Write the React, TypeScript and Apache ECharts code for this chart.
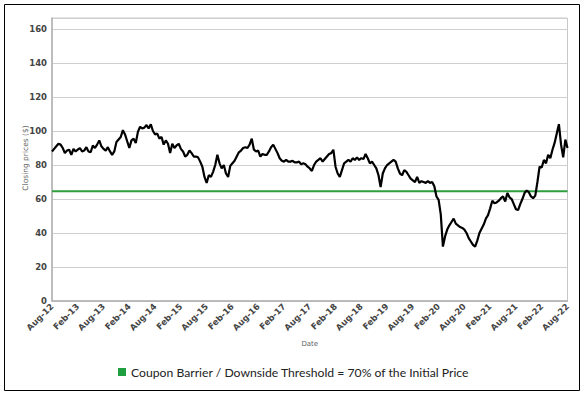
import React, { useEffect, useRef } from "react";
import * as echarts from "echarts";

const tickLabels = [
  "Aug-12", "Feb-13", "Aug-13", "Feb-14", "Aug-14", "Feb-15", "Aug-15",
  "Feb-16", "Aug-16", "Feb-17", "Aug-17", "Feb-18", "Aug-18", "Feb-19",
  "Aug-19", "Feb-20", "Aug-20", "Feb-21", "Aug-21", "Feb-22", "Aug-22",
];

// closing prices, two readings per month starting Aug-12
const prices = [
  88, 89.5, 91, 92.5, 92, 90, 87, 88.5, 89, 86, 89.5, 88, 89, 90, 88, 88.5, 90.5, 88, 87.5, 91.5, 90, 92, 94.5, 91,
  89.5, 88.5, 90.5, 88, 86, 88, 93.5, 95, 96.5, 100.5, 98, 94, 90, 94.5, 95.5, 93, 99.5, 102.5, 101.5, 102, 103.5, 101.5, 104, 100,
  98, 98.5, 95.5, 96.5, 92, 94.5, 92.5, 87, 92.5, 90, 91.5, 92.5, 89.5, 88, 85, 86, 88.5, 87, 85, 85, 84.5, 82, 79, 73,
  69.5, 74, 73, 76, 80, 86, 81, 78, 80, 75, 73, 79.5, 81, 82.5, 85, 87.5, 88.5, 90, 90.5, 90, 92, 95.5, 89, 88,
  88.5, 85, 86.5, 86, 86, 88, 90.5, 92, 89.5, 87, 84, 82.5, 82, 83, 82, 82, 82.5, 81.5, 81.5, 82, 80.5, 81, 80.5, 79,
  78, 76.5, 80, 82, 83, 84, 82, 83.5, 85, 86.5, 87, 89, 79, 75, 73, 77, 81, 82, 83, 82, 84, 83, 84.5, 83,
  84, 83.5, 86.5, 84, 81, 82, 80, 78, 74, 67, 75, 78, 80, 81, 82, 83, 82, 78, 75, 74, 77, 76, 74, 72,
  71, 70, 73, 69.5, 70.5, 70, 69.5, 70.5, 69.5, 70, 67.5, 61.5, 59.5, 51, 32, 38, 42, 44.5, 46.5, 48.5, 45.5, 44.5, 43.5, 43,
  42, 40, 37, 35, 33, 32, 35.5, 40, 42.5, 45, 48.5, 50.5, 54.5, 59, 57.5, 58, 59, 60.5, 61.5, 58.5, 63.5, 61, 60, 57,
  54, 53.5, 57, 60, 63.5, 65, 64, 61.5, 60.5, 62, 70, 79, 78.5, 83, 81, 86, 84, 89, 93, 98.5, 104, 92, 84.5, 95, 90,
];

const barrierName = "Coupon Barrier / Downside Threshold = 70% of the Initial Price";
const barrierLevel = 64.5;
const monthsSpan = 120;
const yAxisTitle = "Closing prices ($)";

export default function App() {
  const ref = useRef<HTMLDivElement>(null);
  useEffect(() => {
    if (!ref.current) return;
    const chart = echarts.init(ref.current, null, { renderer: "svg" });
    const priceData = prices.map((p, i) => [i * 0.5, p]);
    const barrierData = [
      [0, barrierLevel],
      [monthsSpan, barrierLevel],
    ];
    chart.setOption({
      animation: false,
      backgroundColor: "#ffffff",
      grid: {
        left: 52,
        right: 16.5,
        top: 18,
        bottom: 94,
        show: true,
        borderColor: "#c8c8c8",
        borderWidth: 1,
      },
      xAxis: {
        type: "value",
        min: 0,
        max: monthsSpan,
        interval: 6,
        name: "Date",
        nameLocation: "middle",
        nameGap: 39,
        nameTextStyle: { fontSize: 7, color: "#666", fontFamily: "DejaVu Sans" },
        axisLine: { show: true, lineStyle: { color: "#b0b0b0", width: 1.5 } },
        axisTick: { show: false },
        splitLine: { show: false },
        axisLabel: {
          rotate: 45,
          margin: 4,
          fontSize: 8.5,
          color: "#444",
          fontFamily: "DejaVu Sans",
          fontWeight: "bold",
          formatter: (v: number) => tickLabels[Math.round(v / 6)] ?? "",
        },
      },
      yAxis: {
        type: "value",
        min: 0,
        max: 166.5,
        interval: 20,
        axisLine: { show: true, lineStyle: { color: "#b0b0b0", width: 1.5 } },
        axisTick: { show: false },
        splitLine: { show: true, lineStyle: { color: "#cfcfcf", width: 1 } },
        axisLabel: {
          margin: 5,
          fontSize: 8.5,
          color: "#444",
          fontFamily: "DejaVu Sans",
          fontWeight: "bold",
          formatter: (v: number) => (v % 20 === 0 ? String(v) : ""),
        },
      },
      legend: {
        data: [barrierName],
        left: 113,
        top: 361,
        icon: "rect",
        itemWidth: 8,
        itemHeight: 8,
        itemGap: 5,
        textStyle: { fontSize: 12.2, color: "#222", fontFamily: "Lato" },
      },
      series: [
        {
          name: "Price",
          type: "line",
          data: priceData,
          showSymbol: false,
          symbol: "none",
          lineStyle: { color: "#000", width: 2.2 },
          z: 3,
        },
        {
          name: barrierName,
          type: "line",
          data: barrierData,
          showSymbol: false,
          symbol: "none",
          itemStyle: { color: "#1fa040" },
          lineStyle: { color: "#2e9e3e", width: 2 },
          z: 2,
        },
      ],
      graphic: [
        {
          type: "rect",
          shape: { x: 4.5, y: 4.5, width: 575, height: 386 },
          style: { fill: "none", stroke: "#000", lineWidth: 1 },
          silent: true,
        },
        {
          type: "text",
          x: 25,
          y: 158,
          rotation: Math.PI / 2,
          style: {
            text: yAxisTitle,
            fontSize: 7.5,
            fill: "#666",
            fontFamily: "DejaVu Sans",
            align: "center",
            verticalAlign: "middle",
          },
          silent: true,
        },
      ],
    });
    return () => chart.dispose();
  }, []);
  return (
    <div
      ref={ref}
      style={{ position: "fixed", left: 0, top: 0, width: 584, height: 395 }}
    />
  );
}
